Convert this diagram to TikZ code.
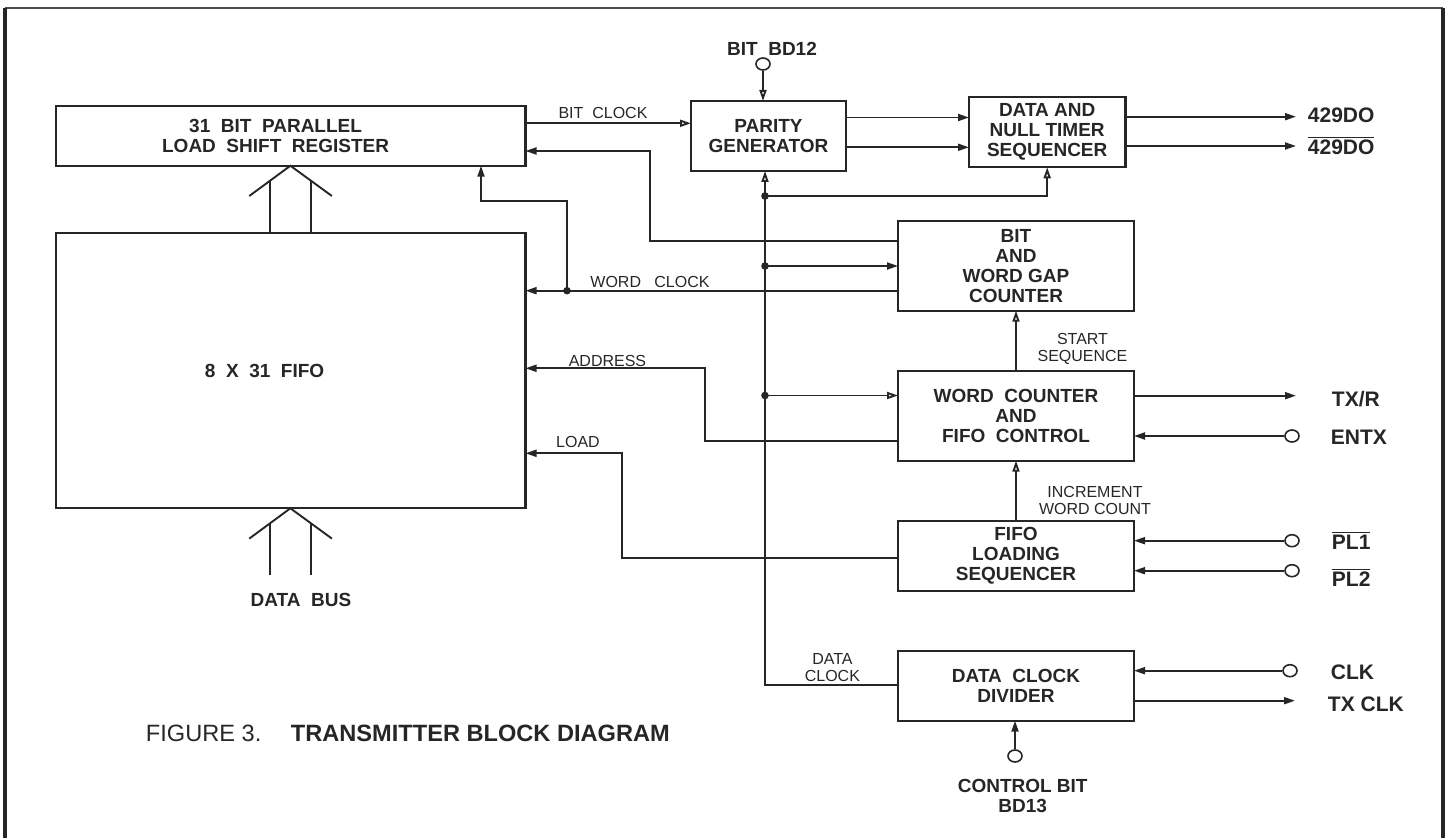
\documentclass[tikz,border=0pt]{standalone}
\usepackage{fontspec}
\setmainfont{Liberation Sans}
\usetikzlibrary{arrows.meta,shapes.geometric}

\begin{document}
\begin{tikzpicture}[
    x=0.5pt, y=-0.5pt,
    color=black!85, line width=0.95pt,
    blk/.style={draw, line width=1.1pt, inner sep=0pt, outer sep=0pt, align=center,
      font=\fontsize{9.5}{10}\selectfont\bfseries},
    lbl/.style={inner sep=0pt, align=center, font=\fontsize{8}{8.5}\selectfont},
    note/.style={inner sep=0pt, align=center, font=\fontsize{9.5}{10}\selectfont\bfseries},
    sig/.style={inner sep=0pt, anchor=base west, font=\fontsize{10.5}{11}\selectfont\bfseries},
    port/.style={draw, ellipse, line width=0.8pt, inner sep=0pt, minimum width=7pt, minimum height=6pt},
    arr/.style={-{Triangle[length=5.5pt,width=3.5pt]}},
    oarr/.style={-{Triangle[open,length=5.5pt,width=3.5pt]}}
]
\useasboundingbox (0,0) rectangle (1448,838);
\draw[line width=1.2pt, black!70] (5,8) -- (1443,8);
\draw[line width=1.8pt] (5,850) -- (5,8) (1443,8) -- (1443,850);

\node[blk, minimum width=234.9pt, minimum height=29.85pt] (sr) at (290.6,135.9)
  {31\ \ BIT\ \ PARALLEL\hspace*{15pt}\\LOAD\ \ SHIFT\ \ REGISTER\hspace*{15pt}};
\node[blk, minimum width=234.9pt, minimum height=137.65pt] (fifo) at (290.6,370.65)
  {8\ \ X\ \ 31\ \ FIFO\hspace*{26pt}};
\node[blk, minimum width=77.5pt, minimum height=35pt] (par) at (768.5,136) {PARITY\\GENERATOR};
\node[blk, minimum width=78.2pt, minimum height=35.3pt] (dnts) at (1047.2,132) {DATA AND\\NULL TIMER\\SEQUENCER};
\node[blk, minimum width=118pt, minimum height=44.85pt] (bwg) at (1016,265.9) {BIT\\AND\\WORD GAP\\COUNTER};
\node[blk, minimum width=118pt, minimum height=45pt] (wcfc) at (1016,415.7) {WORD\ \ COUNTER\\AND\\FIFO\ \ CONTROL};
\node[blk, minimum width=118pt, minimum height=34.85pt] (fls) at (1016,555.9) {FIFO\\LOADING\\SEQUENCER};
\node[blk, minimum width=118pt, minimum height=35pt] (dcd) at (1016,685.7) {DATA\ \ CLOCK\\DIVIDER};

\node[port] (tbd12) at (763,64) {};
\node[port] (tentx) at (1292,436) {};
\node[port] (tpl1) at (1292,540.7) {};
\node[port] (tpl2) at (1292,570.7) {};
\node[port] (tclk) at (1290,670.7) {};
\node[port] (tcb) at (1015,756) {};

\coordinate (o1) at (1296,116.7);
\coordinate (o2) at (1296,146);
\coordinate (otxr) at (1296,395.7);
\coordinate (otxclk) at (1295,700.7);
\coordinate (j1) at (765,196);
\coordinate (j2) at (765,266);
\coordinate (j3) at (765,395.5);
\coordinate (j4) at (567,290.7);

\node[note] (lbd12) at (772,49) {BIT\ \ BD12};
\node[lbl] (lbitclk) at (603,113) {BIT\ \ CLOCK};
\node[lbl] (lwordclk) at (650,282) {WORD\ \ \ CLOCK};
\node[lbl] (laddr) at (607.5,360.7) {ADDRESS};
\node[lbl] (lload) at (578,441.7) {LOAD};
\node[lbl] (lstart) at (1082.5,348.5) {START\\SEQUENCE};
\node[lbl] (lincr) at (1095,500.2) {INCREMENT\\WORD COUNT};
\node[lbl] (ldataclk) at (832.4,668) {DATA\\CLOCK};
\node[note] (lbus) at (301,600) {DATA\ \ BUS};
\node[note] (lcb) at (1022.7,795.9) {CONTROL BIT\\BD13};
\node[sig] at (1307,122.5) {429DO};
\node[sig] at (1307,155) {$\overline{\mbox{429DO}}$};
\node[sig] at (1331,406.5) {TX/R};
\node[sig] at (1330,445) {ENTX};
\node[sig] at (1331,550) {$\overline{\mbox{PL1}}$};
\node[sig] at (1331,587) {$\overline{\mbox{PL2}}$};
\node[sig] at (1330,679.5) {CLK};
\node[sig] at (1327,711.5) {TX CLK};
\node[inner sep=0pt, anchor=west, font=\fontsize{11.8}{12}\selectfont] (fig) at (145,733.3) {FIGURE 3.};
\node[inner sep=0pt, anchor=west, font=\fontsize{11.8}{12}\selectfont\bfseries] (title) at (290,733.3) {TRANSMITTER BLOCK DIAGRAM};

\draw (fifo.north -| 270,0) -- (270,181) (fifo.north -| 311,0) -- (311,181);
\draw (249.3,196) -- (sr.south -| 290.4,0) -- (331.9,196);
\draw (270,575) -- (270,523) (311,575) -- (311,523);
\draw (249.3,538.6) -- (fifo.south -| 290.4,0) -- (331.9,538.6);

\draw[oarr] (tbd12.south) -- (tbd12.south |- par.north);
\draw[oarr] (sr.east |- 0,123.3) -- (par.west |- 0,123.3);
\draw[arr] (bwg.west |- 0,241) -| (650,151) -- (sr.east |- 0,151);
\draw[arr] (par.east |- 0,117.5) -- (dnts.west |- 0,117.5);
\draw[arr] (par.east |- 0,147.3) -- (dnts.west |- 0,147.3);
\draw[arr] (dnts.east |- o1) -- (o1);
\draw[arr] (dnts.east |- o2) -- (o2);
\draw[oarr] (dcd.west |- 0,685) -| (765,0 |- par.south);
\draw[oarr] (j1) -| (dnts.south);
\draw[arr] (j2) -- (bwg.west |- j2);
\draw[oarr] (j3) -- (wcfc.west |- j3);
\draw[arr] (bwg.west |- j4) -- (fifo.east |- j4);
\draw[arr] (j4) |- (481,201) -- (481,0 |- sr.south);
\draw[arr] (wcfc.west |- 0,440.7) -| (705,368.3) -- (fifo.east |- 0,368.3);
\draw[arr] (fls.west |- 0,558.3) -| (622.3,453.3) -- (fifo.east |- 0,453.3);
\draw[oarr] (wcfc.north) -- (bwg.south);
\draw[oarr] (fls.north) -- (wcfc.south);
\draw[arr] (wcfc.east |- otxr) -- (otxr);
\draw[arr] (tentx.west) -- (wcfc.east |- tentx);
\draw[arr] (tpl1.west) -- (fls.east |- tpl1);
\draw[arr] (tpl2.west) -- (fls.east |- tpl2);
\draw[arr] (tclk.west) -- (dcd.east |- tclk);
\draw[arr] (dcd.east |- otxclk) -- (otxclk);
\draw[arr] (tcb.north) -- (tcb.north |- dcd.south);

\fill (j1) circle (1.9pt) (j2) circle (1.9pt) (j3) circle (1.9pt) (j4) circle (1.9pt);
\end{tikzpicture}
\end{document}
